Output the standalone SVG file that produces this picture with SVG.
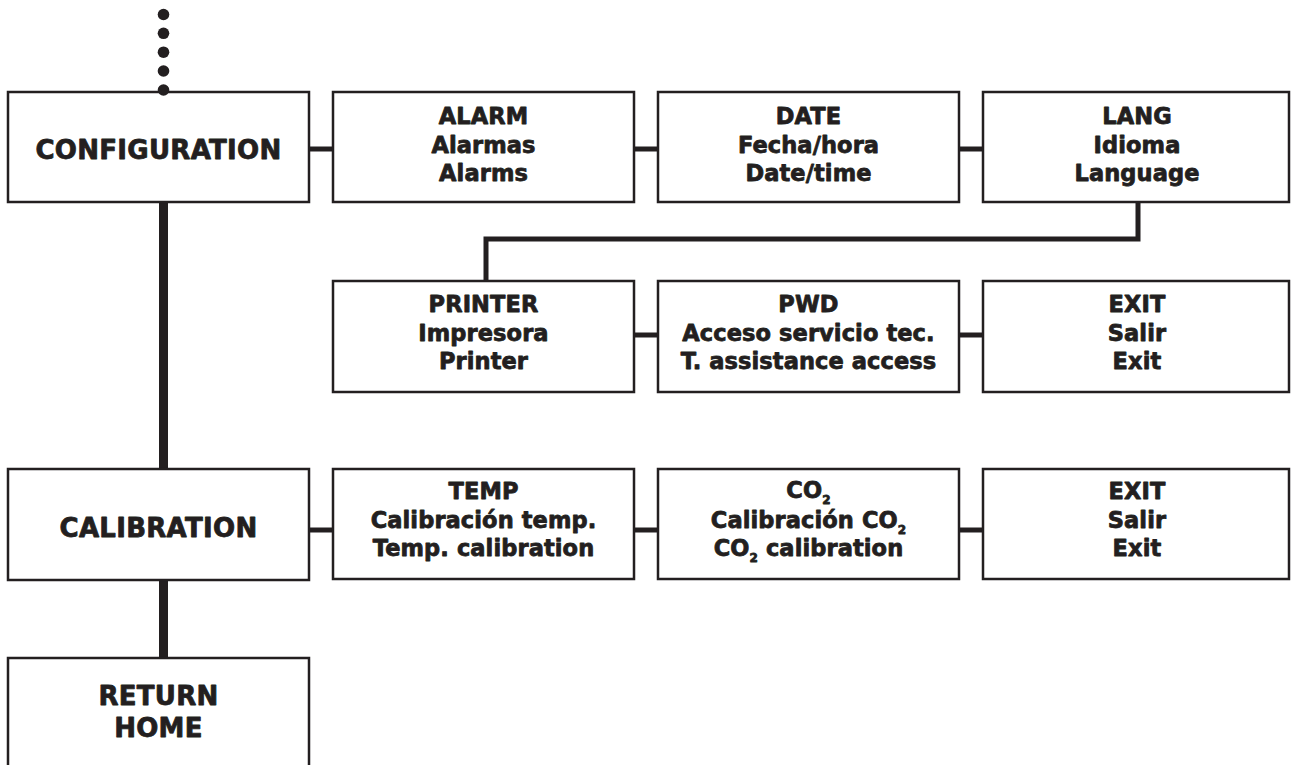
<svg xmlns="http://www.w3.org/2000/svg" width="1291" height="765" viewBox="0 0 1291 765">
<style>
  .box { fill: #ffffff; stroke: #231f20; stroke-width: 2.5; }
  .t { font-family: "DejaVu Sans", "Liberation Sans", sans-serif; font-weight: bold; fill: #231f20; stroke: #231f20; stroke-width: 0.8; stroke-linejoin: round; text-anchor: middle; }
  .s { font-size: 22.5px; letter-spacing: 0.1px; }
  .m { font-size: 26px; letter-spacing: 0.3px; }
  .sub { font-size: 12px; }
  .thin { stroke: #231f20; stroke-width: 5; fill: none; }
  .thick { stroke: #231f20; stroke-width: 9; fill: none; }
  .dot { fill: #231f20; }
</style>
<rect width="1291" height="765" fill="#ffffff"/>
<g id="connectors">
  <line class="thick" x1="163.5" y1="202" x2="163.5" y2="469"/>
  <line class="thick" x1="163.5" y1="580" x2="163.5" y2="658"/>
  <line class="thin" x1="309" y1="149" x2="333" y2="149"/>
  <line class="thin" x1="634" y1="149" x2="658" y2="149"/>
  <line class="thin" x1="959" y1="149" x2="983" y2="149"/>
  <polyline class="thin" points="1138,202 1138,239 486,239 486,281" stroke-linejoin="miter"/>
  <line class="thin" x1="634" y1="335" x2="658" y2="335"/>
  <line class="thin" x1="959" y1="335" x2="983" y2="335"/>
  <line class="thin" x1="309" y1="530" x2="333" y2="530"/>
  <line class="thin" x1="634" y1="530" x2="658" y2="530"/>
  <line class="thin" x1="959" y1="530" x2="983" y2="530"/>
</g>
<g id="config">
  <rect class="box" x="8" y="92" width="301" height="110"/>
  <text class="t m" x="158.5" y="159">CONFIGURATION</text>
</g>
<g id="dots">
  <circle class="dot" cx="163.5" cy="14.5" r="5.8"/>
  <circle class="dot" cx="163.5" cy="33.3" r="5.8"/>
  <circle class="dot" cx="163.5" cy="52.2" r="5.8"/>
  <circle class="dot" cx="163.5" cy="71" r="5.8"/>
  <circle class="dot" cx="163.5" cy="90" r="5.8"/>
</g>
<g id="calibration">
  <rect class="box" x="8" y="469" width="301" height="111"/>
  <text class="t m" x="158.5" y="537">CALIBRATION</text>
</g>
<g id="return-home">
  <rect class="box" x="8" y="658" width="301" height="120"/>
  <text class="t m" x="158.5" y="705">RETURN</text>
  <text class="t m" x="158.5" y="737">HOME</text>
</g>
<g id="alarm">
  <rect class="box" x="333" y="92" width="301" height="110"/>
  <text class="t s" x="483.5" y="124">ALARM</text>
  <text class="t s" x="483.5" y="152.5">Alarmas</text>
  <text class="t s" x="483.5" y="181">Alarms</text>
</g>
<g id="date">
  <rect class="box" x="658" y="92" width="301" height="110"/>
  <text class="t s" x="808.5" y="124">DATE</text>
  <text class="t s" x="808.5" y="152.5">Fecha/hora</text>
  <text class="t s" x="808.5" y="181">Date/time</text>
</g>
<g id="lang">
  <rect class="box" x="983" y="92" width="306" height="110"/>
  <text class="t s" x="1137" y="124">LANG</text>
  <text class="t s" x="1137" y="152.5">Idioma</text>
  <text class="t s" x="1137" y="181">Language</text>
</g>
<g id="printer">
  <rect class="box" x="333" y="281" width="301" height="111"/>
  <text class="t s" x="483.5" y="312">PRINTER</text>
  <text class="t s" x="483.5" y="340.5">Impresora</text>
  <text class="t s" x="483.5" y="369">Printer</text>
</g>
<g id="pwd">
  <rect class="box" x="658" y="281" width="301" height="111"/>
  <text class="t s" x="808.5" y="312">PWD</text>
  <text class="t s" x="808.5" y="340.5">Acceso servicio tec.</text>
  <text class="t s" x="808.5" y="369">T. assistance access</text>
</g>
<g id="exit-config">
  <rect class="box" x="983" y="281" width="306" height="111"/>
  <text class="t s" x="1137" y="312">EXIT</text>
  <text class="t s" x="1137" y="340.5">Salir</text>
  <text class="t s" x="1137" y="369">Exit</text>
</g>
<g id="temp">
  <rect class="box" x="333" y="469" width="301" height="110"/>
  <text class="t s" x="483.5" y="499">TEMP</text>
  <text class="t s" x="483.5" y="527.5">Calibración temp.</text>
  <text class="t s" x="483.5" y="556">Temp. calibration</text>
</g>
<g id="co2">
  <rect class="box" x="658" y="469" width="301" height="110"/>
  <text class="t s" x="808.5" y="498">CO<tspan class="sub" dy="6">2</tspan></text>
  <text class="t s" x="808.5" y="527.5">Calibración CO<tspan class="sub" dy="6">2</tspan></text>
  <text class="t s" x="808.5" y="556">CO<tspan class="sub" dy="6">2</tspan><tspan dy="-6"> calibration</tspan></text>
</g>
<g id="exit-calib">
  <rect class="box" x="983" y="469" width="306" height="110"/>
  <text class="t s" x="1137" y="499">EXIT</text>
  <text class="t s" x="1137" y="527.5">Salir</text>
  <text class="t s" x="1137" y="556">Exit</text>
</g>
</svg>
